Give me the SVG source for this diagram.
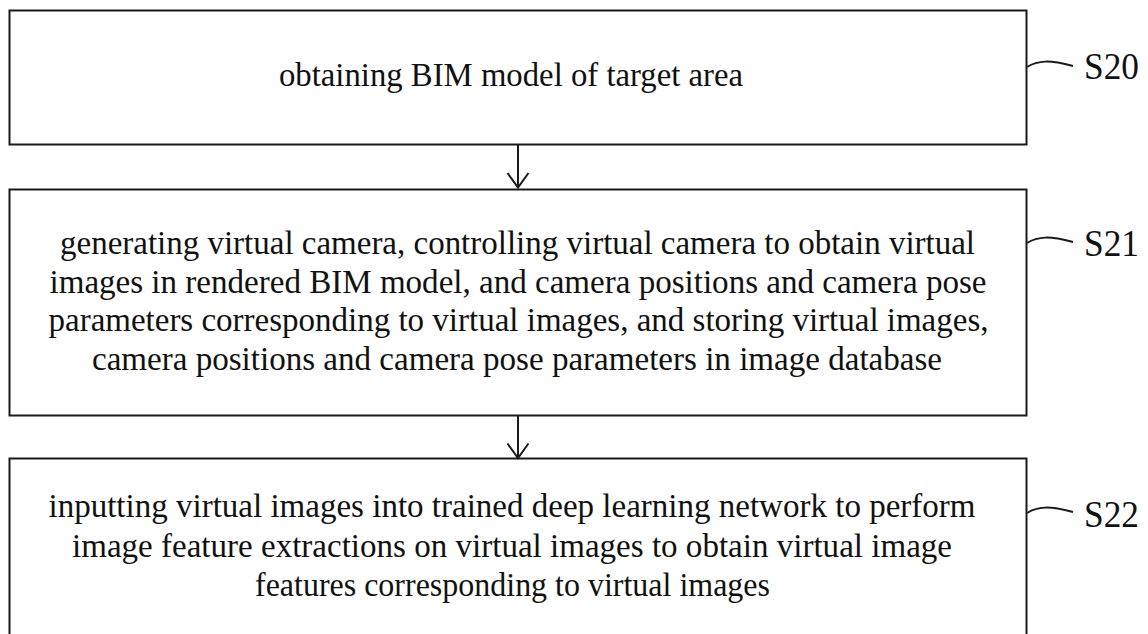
<svg xmlns="http://www.w3.org/2000/svg" width="1148" height="634" viewBox="0 0 1148 634">
  <style>
    .box { fill: #ffffff; stroke: #1a1a1a; stroke-width: 2; }
    .txt { font-family: "Liberation Serif", "Times New Roman", serif; font-size: 33px; fill: #111111; }
    .lbl { font-family: "Liberation Serif", "Times New Roman", serif; font-size: 38px; fill: #111111; }
    .wire { fill: none; stroke: #1a1a1a; stroke-width: 2; }
  </style>
  <rect width="1148" height="634" fill="#ffffff"/>

  <g id="step-s20">
    <rect class="box" x="9.5" y="10.5" width="1017" height="134"/>
    <text class="txt" x="279" y="86" textLength="464" lengthAdjust="spacingAndGlyphs">obtaining BIM model of target area</text>
    <path class="wire" d="M1027,67 C1038,60 1050,60 1073,66"/>
    <text class="lbl" x="1084" y="79" textLength="55" lengthAdjust="spacingAndGlyphs">S20</text>
  </g>

  <g id="step-s21">
    <rect class="box" x="9.5" y="189.5" width="1017" height="226"/>
    <text class="txt" x="60" y="254" textLength="915" lengthAdjust="spacingAndGlyphs">generating virtual camera, controlling virtual camera to obtain virtual</text>
    <text class="txt" x="49.5" y="293" textLength="937" lengthAdjust="spacingAndGlyphs">images in rendered BIM model, and camera positions and camera pose</text>
    <text class="txt" x="48.5" y="331" textLength="940" lengthAdjust="spacingAndGlyphs">parameters corresponding to virtual images, and storing virtual images,</text>
    <text class="txt" x="92" y="370" textLength="850" lengthAdjust="spacingAndGlyphs">camera positions and camera pose parameters in image database</text>
    <path class="wire" d="M1027,243 C1038,236 1050,236 1073,242"/>
    <text class="lbl" x="1084" y="256" textLength="55" lengthAdjust="spacingAndGlyphs">S21</text>
  </g>

  <g id="step-s22">
    <rect class="box" x="9.5" y="458.5" width="1017" height="190"/>
    <text class="txt" x="48.5" y="517" textLength="927" lengthAdjust="spacingAndGlyphs">inputting virtual images into trained deep learning network to perform</text>
    <text class="txt" x="72" y="556.5" textLength="880" lengthAdjust="spacingAndGlyphs">image feature extractions on virtual images to obtain virtual image</text>
    <text class="txt" x="255" y="596" textLength="515" lengthAdjust="spacingAndGlyphs">features corresponding to virtual images</text>
    <path class="wire" d="M1027,513 C1038,506 1050,506 1073,512"/>
    <text class="lbl" x="1084" y="527" textLength="55" lengthAdjust="spacingAndGlyphs">S22</text>
  </g>

  <g id="connectors">
    <path class="wire" d="M518,145 V188"/>
    <path class="wire" d="M507.5,173 L518,187.5 L528.5,173"/>
    <path class="wire" d="M518,416 V457"/>
    <path class="wire" d="M507.5,443.5 L518,458 L528.5,443.5"/>
  </g>
</svg>
